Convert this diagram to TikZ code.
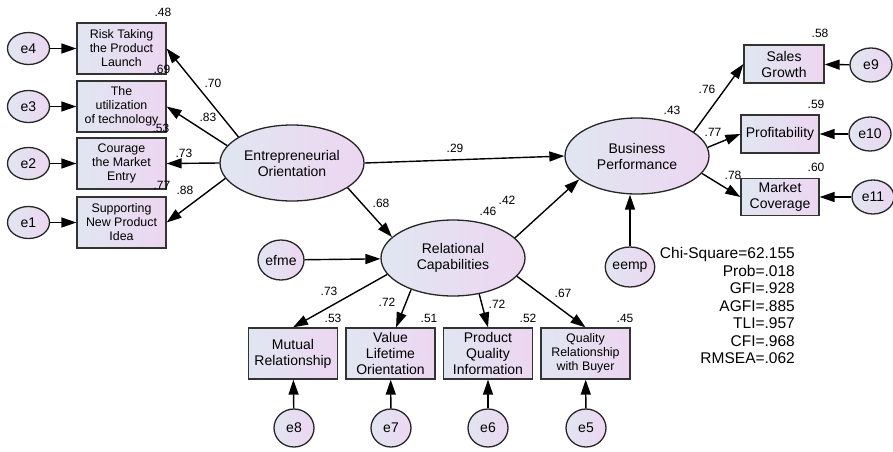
\documentclass[tikz,border=0pt]{standalone}
\usepackage{fontspec}
\setmainfont{Liberation Sans}
\usepackage{tikz}
\usetikzlibrary{shapes.geometric, arrows.meta}
\definecolor{lowc}{RGB}{224,230,241}
\definecolor{highc}{RGB}{237,214,241}

\begin{document}
\begin{tikzpicture}[x=1pt, y=-1pt,
		latent/.style={ellipse, draw=black!85, line width=1.3pt, left color=lowc, right color=highc, minimum width=144pt, minimum height=76pt, inner sep=0pt, align=center, font=\fontsize{14}{16}\selectfont},
		obs/.style={rectangle, draw=black!80, line width=1.3pt, left color=lowc, right color=highc, minimum width=89pt, minimum height=51pt, inner sep=0pt, align=center, font=\fontsize{14}{16}\selectfont},
		obssmall/.style={obs, font=\fontsize{12.4}{14}\selectfont},
		err/.style={ellipse, draw=black!85, line width=1.3pt, left color=lowc, right color=highc, minimum width=42pt, minimum height=34pt, inner sep=0pt, font=\fontsize{14}{16}\selectfont},
		reg/.style={line width=1.4pt, -{Triangle[length=15pt,width=10pt]}},
		coef/.style={font=\fontsize{12}{14}\selectfont, inner sep=0pt}]
	\useasboundingbox (0,0) rectangle (893,451);
	
	\node[latent] (eo) at (292,163) {Entrepreneurial\\Orientation};
	\node[latent] (bp) at (637,156) {Business\\Performance};
	\node[latent] (rc) at (453,258) {Relational\\Capabilities};
	
	\node[obssmall] (risk) at (121.5,48.5) {Risk Taking\\the Product\\Launch};
	\node[obssmall] (util) at (121.5,106.5) {The\\utilization\\of technology};
	\node[obssmall] (cour) at (121.5,163.5) {Courage\\the Market\\Entry};
	\node[obssmall] (supp) at (121.5,222.5) {Supporting\\New Product\\Idea};
	
	\node[obs, minimum width=80pt, minimum height=38pt] (sales) at (784,64) {Sales\\Growth};
	\node[obs, minimum width=78pt, minimum height=38pt] (profit) at (780,134) {Profitability};
	\node[obs, minimum width=78pt, minimum height=37pt] (market) at (780,197) {Market\\Coverage};
	
	\node[obs] (mutual) at (293,353.5) {Mutual\\Relationship};
	\node[obs] (value) at (390.5,353.5) {Value\\Lifetime\\Orientation};
	\node[obs] (prodq) at (488,353.5) {Product\\Quality\\Information};
	\node[obssmall] (qual) at (585.5,353.5) {Quality\\Relationship\\with Buyer};
	
	\foreach \n/\y in {4/48.5, 3/106.5, 2/163.5, 1/222.5}
	\node[err, minimum height=32pt] (e\n) at (28.5,\y) {e\n};
	\foreach \n/\x/\y in {9/871/65, 10/870/134, 11/873/197}
	\node[err] (e\n) at (\x,\y) {e\n};
	\foreach \n/\x in {8/294, 7/391, 6/488, 5/586}
	\node[err, minimum width=40pt, minimum height=38pt] (e\n) at (\x,428) {e\n};
	\node[err, minimum width=46pt, minimum height=40pt] (efme) at (281,260) {efme};
	\node[err, minimum height=40pt] (eemp) at (630,267) {eemp};
	
	\foreach \n/\b in {4/risk, 3/util, 2/cour, 1/supp, 9/sales, 10/profit, 11/market, 8/mutual, 7/value, 6/prodq, 5/qual}
	\draw[reg] (e\n) -- (\b);
	
	\draw[reg] (eo.154) -- (risk.east);
	\draw[reg] (eo.165) -- (util.east);
	\draw[reg] (eo.west) -- (cour.east);
	\draw[reg] (eo.193) -- (supp.east);
	\draw[reg] (eo.336) -- (rc.161);
	\draw[reg] (eo.east) -- (bp.west);
	\draw[reg] (rc.18) -- (bp.202);
	\draw[reg] (efme) -- (rc);
	\draw[reg] (eemp.north) -- (eemp.north |- bp.south);
	\draw[reg] (bp.23) -- (sales.west);
	\draw[reg] (bp.7) -- (profit.west);
	\draw[reg] (bp.345) -- (market.west);
	\draw[reg] (rc.194) -- (mutual.north);
	\draw[reg] (rc.217) -- (value.78);
	\draw[reg] (rc.306) -- (prodq.north);
	\draw[reg] (rc.344) -- (qual.north);
	
	\foreach \t/\x/\y in {.48/163/12, .69/162/69, .53/161/128, .77/162/185,
		.70/213/83, .83/208/117, .73/184/153, .88/185/190,
		.68/381/203, .29/455/148, .42/507/200, .46/488/211,
		.43/672/110, .76/707/89, .77/713/132, .78/733/175,
		.58/820/33, .59/816/104, .60/816/167,
		.53/333/318, .51/429/318, .52/528/318, .45/625/318,
		.73/329/291, .72/387/302, .72/497/304, .67/563/293}
	\node[coef] at (\x,\y) {\t};
	
	\node[align=right, anchor=north east, inner sep=0pt, font=\fontsize{15.5}{17.5}\selectfont] (fit) at (795,247.5) {Chi-Square=62.155\\Prob=.018\\GFI=.928\\AGFI=.885\\TLI=.957\\CFI=.968\\RMSEA=.062};
\end{tikzpicture}
\end{document}
